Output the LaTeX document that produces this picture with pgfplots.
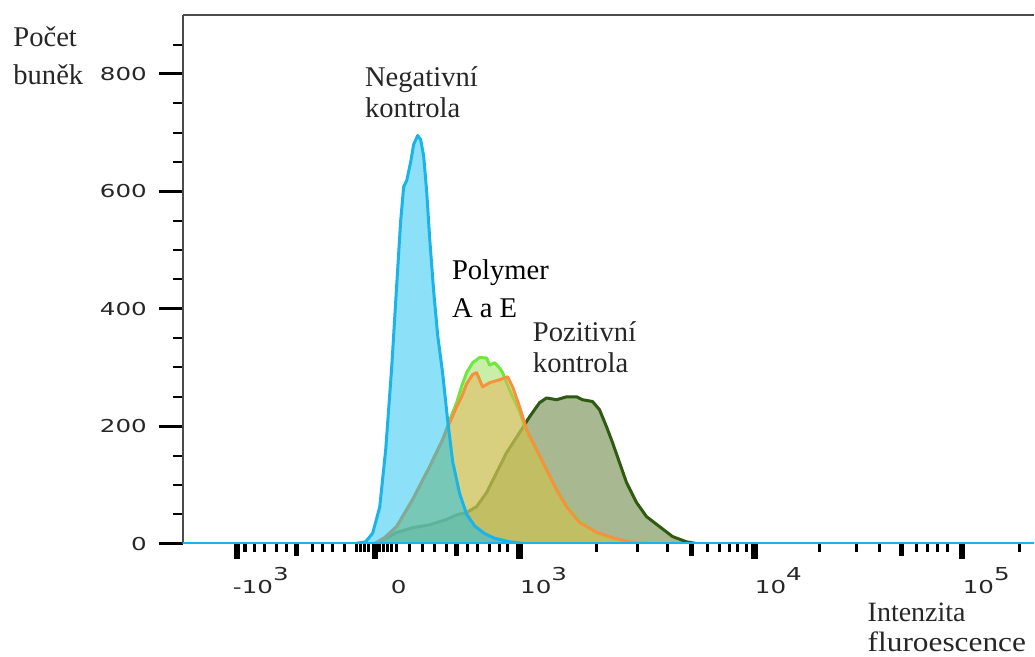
\documentclass[border=0pt]{standalone}
\usepackage{fontspec}
\setmainfont{Liberation Serif}
\newfontfamily\ticksf[FakeStretch=1.38]{DejaVu Sans}
\usepackage{pgfplots}
\usepackage{pgfplotstable}
\pgfplotsset{compat=1.18}

\definecolor{negline}{HTML}{1CB4E8}
\definecolor{negfill}{HTML}{19C1F1}
\definecolor{grline}{HTML}{6EE83C}
\definecolor{grfill}{HTML}{91DD51}
\definecolor{orline}{HTML}{F5923E}
\definecolor{orfill}{HTML}{E8B258}
\definecolor{posline}{HTML}{2E5A12}
\definecolor{posfill}{HTML}{517121}

\newcommand\ex[1]{\raisebox{6.5pt}{#1}}
\newcommand\lbl{\fontsize{14.3}{17}\selectfont}
\newcommand\tickfont{\ticksf\fontsize{8.9}{10}\selectfont}

% x = display position on the biexponential axis, y = cell count
\pgfplotstableread{
x y
183 0
355 0
366 3
373 18
380 62
386 160
392 300
397 440
401 550
404 608
407 618
411 650
414 680
418 695
421 688
424 660
427 600
430 520
434 430
438 355
443 290
448 210
453 140
460 85
467 50
475 30
485 17
495 9
510 3
525 0
1035 0
}\negdata

\pgfplotstableread{
x y
375 0
385 10
397 29
413 75
430 131
443 177
450 210
457 240
462 268
467 291
473 308
480 317
487 316
490 304
495 308
500 299
503 291
508 270
513 250
520 225
527 190
537 158
547 124
557 92
567 64
580 38
597 18
613 8
630 2
645 0
}\grdata

\pgfplotstableread{
x y
375 0
385 10
397 29
413 75
430 131
443 177
450 206
457 233
462 250
467 272
473 288
477 291
483 267
490 274
500 279
508 284
513 267
520 233
527 194
537 160
547 126
557 92
567 63
580 36
597 19
613 10
630 3
650 0
}\ordata

\pgfplotstableread{
x y
375 0
380 3
397 19
413 27
430 32
447 41
457 49
467 53
477 63
487 87
497 121
507 155
520 189
530 216
540 240
547 248
557 245
567 250
577 250
583 245
593 242
600 228
607 199
613 172
620 138
627 104
637 70
647 46
660 29
673 12
687 3
697 0
}\posdata

\begin{document}
\begin{tikzpicture}
\begin{scope}[x=0.5pt,y=-0.5pt,shift={(-183,-544)}]
\path[use as bounding box] (0,0) rectangle (1035,657);
\end{scope}

\begin{axis}[
    scale only axis,
    width=426pt, height=264.4pt,
    xmin=183, xmax=1035, ymin=0, ymax=900,
    axis y line*=left,
    axis x line*=top,
    axis line style={-, black!70, line width=0.8pt},
    xtick=\empty,
    ytick={0,200,...,800},
    minor ytick={50,100,...,850},
    tick align=outside,
    major tick length=12pt,
    minor tick length=5pt,
    major y tick style={line width=1.6pt, black},
    minor y tick style={line width=1pt, black},
    /pgf/number format/assume math mode=true,
    yticklabel style={font=\tickfont, text=black!85, xshift=-2.5pt},
]
\addplot[draw=posline, line width=1.5pt, line join=round, fill=posfill, fill opacity=0.5]
    table[x=x, y=y] {\posdata} \closedcycle;
\addplot[draw=grline, line width=1.5pt, line join=round, fill=grfill, fill opacity=0.5]
    table[x=x, y=y] {\grdata} \closedcycle;
\addplot[draw=orline, line width=1.5pt, line join=round, fill=orfill, fill opacity=0.5]
    table[x=x, y=y] {\ordata} \closedcycle;
\addplot[draw=negline, line width=1.5pt, line join=round, fill=negfill, fill opacity=0.5]
    table[x=x, y=y] {\negdata} \closedcycle;
\end{axis}

% second axis only for the biexponential x ticks
\begin{axis}[
    scale only axis,
    width=426pt, height=264.4pt,
    xmin=183, xmax=1035, ymin=0, ymax=900,
    axis line style={draw=none},
    hide y axis,
    tick align=outside,
    tickpos=left,
    xtick={237,375,520,755,963},
    xticklabels={{-10\ex{3}},{\vphantom{\ex{3}}0},{10\ex{3}},{10\ex{4}},{10\ex{5}}},
    minor xtick={245,255,265,277,287,313,323,333,345,357,361,365,369,380,384,388,392,397,410,423,435,447,468,478,490,500,508,597,638,668,708,720,730,738,747,820,857,880,917,928,938,948,1020},
    extra x ticks={297,457,692,902},
    extra x tick labels={},
    extra x tick style={major tick length=6pt, major x tick style={line width=2.4pt, black}},
    major tick length=7.5pt,
    minor tick length=4pt,
    major x tick style={line width=3.2pt, black},
    minor x tick style={line width=1.7pt, black},
    xticklabel style={font=\tickfont, text=black!85, xshift=12pt, yshift=-1pt},
]
\end{axis}

\begin{scope}[x=0.5pt,y=-0.5pt,shift={(-183,-544)}]
\tikzset{every node/.style={anchor=base west, inner sep=0pt, font=\lbl}}
\node[text=black!85] at (13,47) {Počet};
\node[text=black!85] at (13,85) {buněk};
\node[text=black!85] at (365,87) {Negativní};
\node[text=black!85] at (365,118) {kontrola};
\node at (452,280) {Polymer};
\node at (452,318) {A a E};
\node[text=black!85] at (533,342) {Pozitivní};
\node[text=black!85] at (533,373) {kontrola};
\node[text=black!85, font=\fontsize{14}{17}\selectfont] at (868,622) {Intenzita};
\node[text=black!85, font=\fontsize{14}{17}\selectfont] at (868,652) {\scalebox{1.12}[1]{fluroescence}};
\end{scope}
\end{tikzpicture}
\end{document}
